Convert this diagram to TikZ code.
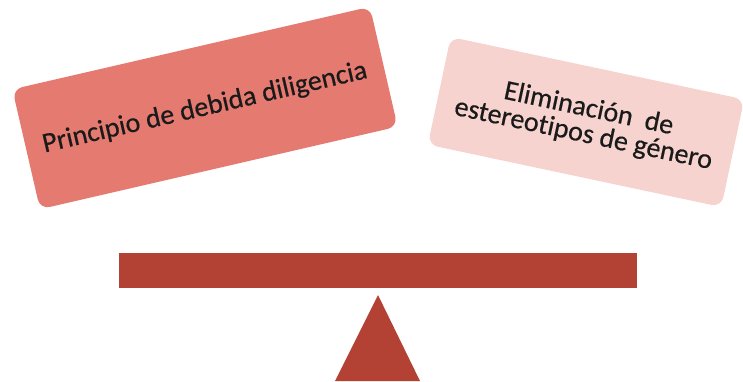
\documentclass[tikz,border=0pt]{standalone}
\usepackage{fontspec}
\setmainfont{Carlito}[Ligatures=NoCommon, FakeBold=0.5]
\definecolor{salmon}{HTML}{E57A71}
\definecolor{blush}{HTML}{F6D3CE}
\definecolor{brick}{HTML}{B34234}
\definecolor{ink}{HTML}{1A1A1A}
\tikzset{
  card/.style={rounded corners=10pt, inner sep=0pt, align=center, text=ink,
    font=\fontsize{28}{26}\selectfont},
}
\begin{document}
\begin{tikzpicture}[x=1pt,y=-1pt]
	\useasboundingbox (0,0) rectangle (743,382);

	\node[card, fill=salmon, rotate=13, minimum width=367pt, minimum height=123pt] (debida) at (205,108) {Principio de debida diligencia};

	\node[card, fill=blush, rotate=-12, minimum width=300pt, minimum height=110pt] (estereo) at (586,122) {Eliminación\ \ de\\estereotipos de género};

	\fill[brick] (119,253) rectangle (637,288);
	\node[inner sep=0pt] (barra) at (378,270) {};

	\fill[brick] (378,295) -- (420,381) -- (335,381) -- cycle;
\end{tikzpicture}
\end{document}
